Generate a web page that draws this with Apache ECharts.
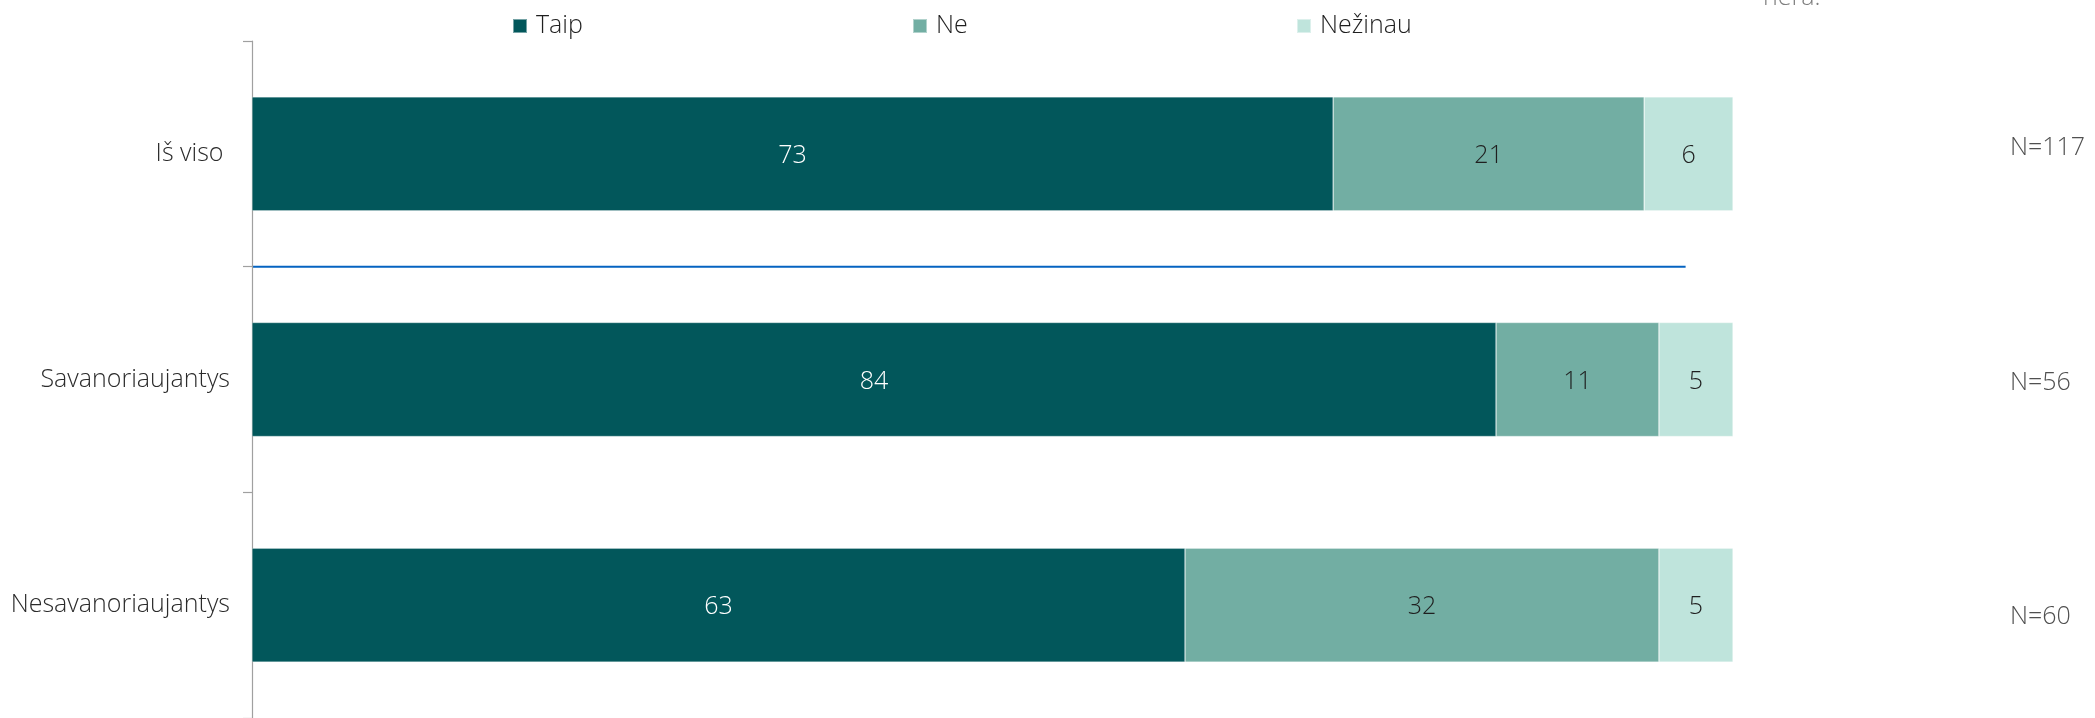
<!DOCTYPE html>
<html>
<head>
<meta charset="utf-8">
<script src="https://cdn.jsdelivr.net/npm/echarts@6/dist/echarts.min.js"></script>
<style>
  html, body { margin: 0; padding: 0; background: #ffffff; }
  #chart { width: 2095px; height: 718px; }
</style>
</head>
<body>
<div id="chart"></div>
<script>
// Survey answers (%), one stacked bar per group
const categories = ['Iš viso ', 'Savanoriaujantys', 'Nesavanoriaujantys'];
const seriesNames = ['Taip', 'Ne', 'Nežinau'];
const taip = [73, 84, 63];
const ne = [21, 11, 32];
const nezinau = [6, 5, 5];
const sampleSizes = ['N=117', 'N=56', 'N=60'];

const colors = ['#02575B', '#72AEA3', '#BFE4DC'];
const labelColors = ['#ffffff', '#1f1f1f', '#1f1f1f'];
const FONT = '"Open Sans", "Noto Sans", sans-serif';

const chart = echarts.init(document.getElementById('chart'), null, { renderer: 'canvas' });

const values = [taip, ne, nezinau];
const series = seriesNames.map((name, i) => ({
  name: name,
  type: 'bar',
  stack: 'total',
  data: values[i],
  barWidth: 114,
  itemStyle: { color: colors[i], borderColor: 'rgba(255,255,255,0.45)', borderWidth: 0.6 },
  label: {
    show: true,
    position: 'inside',
    offset: [0, 2],
    color: labelColors[i],
    fontFamily: FONT,
    fontWeight: 300,
    fontSize: 25
  }
}));

// one legend block per answer so each can sit at its own spot
const legendLefts = [507, 907, 1291];
const legends = seriesNames.map((name, i) => ({
  data: [name],
  left: legendLefts[i],
  top: 6,
  icon: 'rect',
  itemWidth: 14,
  itemHeight: 14,
  selectedMode: false,
  textStyle: {
    fontFamily: FONT,
    fontWeight: 300,
    fontSize: 25,
    color: '#1f1f1f',
    lineHeight: 30,
    padding: [0, 0, 0, 4]
  }
}));

chart.setOption({
  animation: false,
  backgroundColor: '#ffffff',
  legend: legends,
  grid: { left: 252, top: 41, width: 1481, height: 681, containLabel: false },
  xAxis: {
    type: 'value',
    min: 0,
    max: 100,
    show: false
  },
  yAxis: {
    type: 'category',
    data: categories,
    inverse: true,
    axisLine: { show: true, lineStyle: { color: '#a0a0a0', width: 1.2 } },
    axisTick: { show: true, length: 9, lineStyle: { color: '#a0a0a0', width: 1.2 } },
    axisLabel: {
      margin: 22,
      fontFamily: FONT,
      fontWeight: 300,
      fontSize: 25,
      color: '#2b2b2b',
      padding: [4, 0, 0, 0]
    },
    splitLine: { show: false }
  },
  series: series
});

// divider between the total row and the group rows, placed through the axes
const dividerEnd = 96.8;
const yTop = chart.convertToPixel({ yAxisIndex: 0 }, categories[0]);
const yNext = chart.convertToPixel({ yAxisIndex: 0 }, categories[1]);
const x0 = chart.convertToPixel({ xAxisIndex: 0 }, 0);
const x1 = chart.convertToPixel({ xAxisIndex: 0 }, dividerEnd);
const yDiv = (yTop + yNext) / 2;

// sample size notes on the right
const nTops = [148, 383, 617];
const graphics = [
  {
    type: 'line',
    shape: { x1: x0, y1: yDiv, x2: x1, y2: yDiv },
    style: { stroke: '#0563C1', lineWidth: 2 },
    silent: true
  },
  {
    type: 'text',
    x: 1763,
    y: -2,
    style: { text: 'nera.', fill: '#7f7f7f', font: '300 25px ' + FONT, verticalAlign: 'middle', align: 'left' }
  }
].concat(sampleSizes.map((t, i) => ({
  type: 'text',
  x: 2010,
  y: nTops[i],
  style: {
    text: t,
    fill: '#505050',
    font: '300 25px ' + FONT,
    verticalAlign: 'middle',
    align: 'left'
  }
})));

chart.setOption({ graphic: graphics });
</script>
</body>
</html>
